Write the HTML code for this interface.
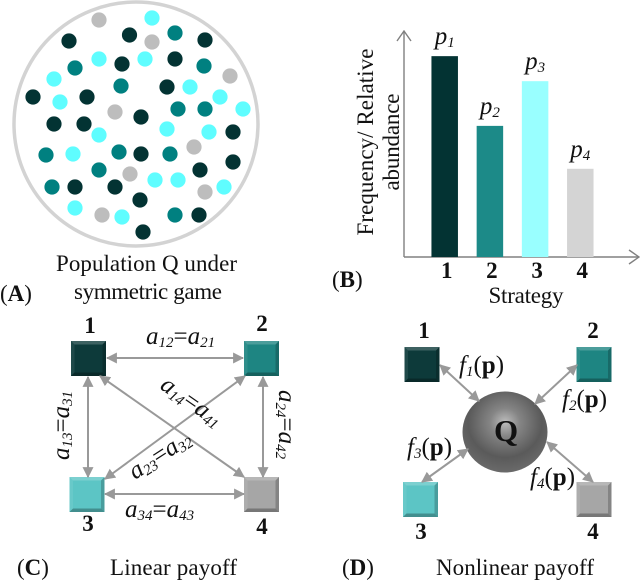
<!DOCTYPE html>
<html lang="en">
<head>
<meta charset="utf-8">
<title>Symmetric game diagram</title>
<style>
html,body{margin:0;padding:0;background:#fff;}
svg{display:block;}
text{font-family:"Liberation Serif",serif;fill:#111;}
.b{font-weight:bold;}
.i{font-style:italic;}
.t{font-size:23px;}
.n{font-size:23px;font-weight:bold;}
.l{font-size:25px;font-style:italic;}
.p{font-size:25px;font-style:italic;}
.s{font-size:15px;font-style:italic;}
.lnk{stroke:#999;stroke-width:2;fill:none;marker-start:url(#ah);marker-end:url(#ah);}
.dk{fill:#033333;}.te{fill:#008080;}.cy{fill:#5ffdff;}.gr{fill:#bdbdbd;}
</style>
</head>
<body>
<svg id="fig" xmlns="http://www.w3.org/2000/svg" width="640" height="581" viewBox="0 0 640 581">
<defs>
<marker id="ah" viewBox="0 0 10 10" refX="9" refY="5" markerWidth="5.5" markerHeight="5.5" orient="auto-start-reverse" markerUnits="strokeWidth"><path d="M0 0L10 5L0 10Z" fill="#999"/></marker>
<marker id="op" viewBox="0 0 12 16" refX="11" refY="8" markerWidth="12" markerHeight="16" orient="auto" markerUnits="userSpaceOnUse"><path d="M1 1L11 8L1 15" fill="none" stroke="#808080" stroke-width="1.4"/></marker>
<g id="bevel">
<path d="M0 0H35L31.500 3.500H3.500Z" fill="#fff" opacity=".2"/>
<path d="M0 0L3.500 3.500V31.500L0 35Z" fill="#fff" opacity=".08"/>
<path d="M35 0V35L31.500 31.500V3.500Z" fill="#000" opacity=".2"/>
<path d="M0 35H35L31.500 31.500H3.500Z" fill="#000" opacity=".28"/>
</g>
<radialGradient id="sph" cx=".5" cy=".38" r=".62">
<stop offset="0" stop-color="#bdbdbd"/><stop offset=".28" stop-color="#858585"/><stop offset=".7" stop-color="#5a5a5a"/><stop offset="1" stop-color="#6a6a6a"/>
</radialGradient>
</defs>

<!-- Panel A -->
<g>
<circle cx="136" cy="124" r="122" fill="#fff" stroke="#d3d3d3" stroke-width="3.5"/>
<g class="dk">
<circle cx="69" cy="41" r="7.6"/><circle cx="129.5" cy="35" r="7.6"/><circle cx="205" cy="40" r="7.6"/><circle cx="122" cy="64" r="7.6"/><circle cx="175" cy="59" r="7.6"/><circle cx="167" cy="87" r="7.6"/><circle cx="33" cy="97" r="7.6"/><circle cx="87" cy="97" r="7.6"/><circle cx="54" cy="124" r="7.6"/><circle cx="84" cy="124" r="7.6"/><circle cx="141" cy="117" r="7.6"/><circle cx="233" cy="132" r="7.6"/><circle cx="141" cy="154" r="7.6"/><circle cx="233" cy="162" r="7.6"/><circle cx="200" cy="170" r="7.6"/><circle cx="75" cy="187" r="7.6"/><circle cx="115" cy="187" r="7.6"/><circle cx="140" cy="200" r="7.6"/><circle cx="199" cy="215" r="7.6"/><circle cx="143" cy="232" r="7.6"/>
</g>
<g class="te">
<circle cx="175" cy="33" r="7.6"/><circle cx="75" cy="68" r="7.6"/><circle cx="204" cy="66" r="7.6"/><circle cx="121" cy="86" r="7.6"/><circle cx="178" cy="109" r="7.6"/><circle cx="205" cy="109" r="7.6"/><circle cx="46" cy="155" r="7.6"/><circle cx="119" cy="152" r="7.6"/><circle cx="170" cy="154" r="7.6"/><circle cx="99" cy="170" r="7.6"/><circle cx="52" cy="187" r="7.6"/><circle cx="175" cy="215" r="7.6"/>
</g>
<g class="cy">
<circle cx="152" cy="18" r="7.6"/><circle cx="99" cy="59" r="7.6"/><circle cx="145" cy="59" r="7.6"/><circle cx="54" cy="79" r="7.6"/><circle cx="190" cy="87" r="7.6"/><circle cx="60" cy="102" r="7.6"/><circle cx="220" cy="97" r="7.6"/><circle cx="243" cy="109" r="7.6"/><circle cx="99" cy="135" r="7.6"/><circle cx="167" cy="129" r="7.6"/><circle cx="209" cy="132" r="7.6"/><circle cx="73" cy="154" r="7.6"/><circle cx="155" cy="180" r="7.6"/><circle cx="178" cy="180" r="7.6"/><circle cx="224" cy="187" r="7.6"/><circle cx="75" cy="208" r="7.6"/><circle cx="122" cy="217" r="7.6"/>
</g>
<g class="gr">
<circle cx="99" cy="20" r="7.6"/><circle cx="152" cy="42" r="7.6"/><circle cx="230" cy="76" r="7.6"/><circle cx="115" cy="112" r="7.6"/><circle cx="194" cy="147" r="7.6"/><circle cx="130" cy="174" r="7.6"/><circle cx="205" cy="192" r="7.6"/><circle cx="102" cy="215" r="7.6"/>
</g>
<text class="t" x="56" y="271" textLength="181" lengthAdjust="spacing">Population Q under</text>
<text class="t" x="74" y="299" textLength="148" lengthAdjust="spacing">symmetric game</text>
<text class="t" x="0" y="301"><tspan>(</tspan><tspan class="b">A</tspan><tspan>)</tspan></text>
</g>

<!-- Panel B -->
<g id="barPanel">
<path d="M404 257V31" stroke="#808080" stroke-width="1.4" fill="none" marker-end="url(#op)"/>
<path d="M404 257H639" stroke="#808080" stroke-width="1.4" fill="none" marker-end="url(#op)"/>
<text class="t" transform="translate(373 142) rotate(-90)" text-anchor="middle" textLength="187">Frequency/ Relative</text>
<text class="t" transform="translate(399 142) rotate(-90)" text-anchor="middle" textLength="97">abundance</text>
<text class="t" x="526" y="303" text-anchor="middle" textLength="75">Strategy</text>
<text class="t" x="332" y="287"><tspan>(</tspan><tspan class="b">B</tspan><tspan>)</tspan></text>
</g>

<!-- Panel C -->
<g>
<g transform="translate(71 341)"><rect width="35" height="35" fill="#0d3a3a"/><use href="#bevel"/></g>
<g transform="translate(244 341)"><rect width="35" height="35" fill="#1e8582"/><use href="#bevel"/></g>
<g transform="translate(69.500 477)"><rect width="35" height="35" fill="#5cc5c5"/><use href="#bevel"/></g>
<g transform="translate(244 477)"><rect width="35" height="35" fill="#a6a6a6"/><use href="#bevel"/></g>
<path class="lnk" d="M107 358H243"/>
<path class="lnk" d="M88 377V477"/>
<path class="lnk" d="M263 377V477"/>
<path class="lnk" d="M105 494H244"/>
<path class="lnk" d="M100 376L244 477"/>
<path class="lnk" d="M245 376L105 479"/>
<text class="n" x="90" y="333" text-anchor="middle">1</text>
<text class="n" x="262" y="331" text-anchor="middle">2</text>
<text class="n" x="88" y="531" text-anchor="middle">3</text>
<text class="n" x="262" y="534" text-anchor="middle">4</text>
<text class="l" x="146" y="344">a<tspan class="s" dy="3">12</tspan><tspan dy="-3" font-style="normal">=</tspan>a<tspan class="s" dy="3">21</tspan></text>
<text class="l" x="125" y="517">a<tspan class="s" dy="3">34</tspan><tspan dy="-3" font-style="normal">=</tspan>a<tspan class="s" dy="3">43</tspan></text>
<text class="l" transform="translate(69 460) rotate(-90)">a<tspan class="s" dy="3">13</tspan><tspan dy="-3" font-style="normal">=</tspan>a<tspan class="s" dy="3">31</tspan></text>
<text class="l" transform="translate(279 390) rotate(90)">a<tspan class="s" dy="3">24</tspan><tspan dy="-3" font-style="normal">=</tspan>a<tspan class="s" dy="3">42</tspan></text>
<text class="l" transform="translate(159 388) rotate(35)">a<tspan class="s" dy="3">14</tspan><tspan dy="-3" font-style="normal">=</tspan>a<tspan class="s" dy="3">41</tspan></text>
<text class="l" transform="translate(135 480) rotate(-33)">a<tspan class="s" dy="3">23</tspan><tspan dy="-3" font-style="normal">=</tspan>a<tspan class="s" dy="3">32</tspan></text>
<text class="t" x="17" y="575"><tspan>(</tspan><tspan class="b">C</tspan><tspan>)</tspan></text>
<text class="t" x="110" y="575" textLength="127">Linear payoff</text>
</g>

<!-- Panel D -->
<g>
<ellipse cx="505" cy="432" rx="42.500" ry="40.500" fill="url(#sph)"/>
<text x="506" y="441" font-size="31" font-weight="bold" text-anchor="middle">Q</text>
<g transform="translate(404.500 347)"><rect width="35" height="35" fill="#0d3a3a"/><use href="#bevel"/></g>
<g transform="translate(576.500 347)"><rect width="35" height="35" fill="#1e8582"/><use href="#bevel"/></g>
<g transform="translate(403 482)"><rect width="35" height="35" fill="#5cc5c5"/><use href="#bevel"/></g>
<g transform="translate(576.500 482)"><rect width="35" height="35" fill="#a6a6a6"/><use href="#bevel"/></g>
<path class="lnk" d="M440 365L479 401"/>
<path class="lnk" d="M577 365L535 404"/>
<path class="lnk" d="M468 449L422 482"/>
<path class="lnk" d="M547 442L593 482"/>
<text class="n" x="424" y="338" text-anchor="middle">1</text>
<text class="n" x="593" y="338" text-anchor="middle">2</text>
<text class="n" x="421" y="539" text-anchor="middle">3</text>
<text class="n" x="593" y="539" text-anchor="middle">4</text>
<text class="l" x="459" y="373">f<tspan class="s" dy="3">1</tspan><tspan dy="-3" font-style="normal">(</tspan><tspan font-style="normal" font-weight="bold">p</tspan><tspan font-style="normal">)</tspan></text>
<text class="l" x="562" y="407">f<tspan class="s" dy="3">2</tspan><tspan dy="-3" font-style="normal">(</tspan><tspan font-style="normal" font-weight="bold">p</tspan><tspan font-style="normal">)</tspan></text>
<text class="l" x="407" y="455">f<tspan class="s" dy="3">3</tspan><tspan dy="-3" font-style="normal">(</tspan><tspan font-style="normal" font-weight="bold">p</tspan><tspan font-style="normal">)</tspan></text>
<text class="l" x="530" y="485">f<tspan class="s" dy="3">4</tspan><tspan dy="-3" font-style="normal">(</tspan><tspan font-style="normal" font-weight="bold">p</tspan><tspan font-style="normal">)</tspan></text>
<text class="t" x="342" y="575"><tspan>(</tspan><tspan class="b">D</tspan><tspan>)</tspan></text>
<text class="t" x="436" y="575" textLength="158">Nonlinear payoff</text>
</g>
</svg>
<script>
const categories = ['1', '2', '3', '4'];
const frequencies = [0.337, 0.220, 0.295, 0.148];
const barColors = ['#033333', '#1c8a88', '#99ffff', '#d4d4d4'];

const NS = 'http://www.w3.org/2000/svg';
const panel = document.getElementById('barPanel');
const xScale = i => 444.7 + i * 45.2;
const yScale = v => 257 - v * 596;
const barWidth = 26.5;

categories.forEach((cat, i) => {
  const bar = document.createElementNS(NS, 'rect');
  
  
  bar.setAttribute('x', xScale(i) - barWidth / 2);
  bar.setAttribute('y', yScale(frequencies[i]));
  bar.setAttribute('width', barWidth);
  bar.setAttribute('height', 257 - yScale(frequencies[i]));
  bar.setAttribute('fill', barColors[i]);
  panel.appendChild(bar);

  const tick = document.createElementNS(NS, 'text');
  
  
  tick.setAttribute('class', 'n');
  tick.setAttribute('x', xScale(i) + 2);
  tick.setAttribute('y', 278);
  tick.setAttribute('text-anchor', 'middle');
  tick.textContent = cat;
  panel.appendChild(tick);

  const label = document.createElementNS(NS, 'text');
  
  
  label.setAttribute('class', 'p');
  label.setAttribute('x', xScale(i) - 10);
  label.setAttribute('y', yScale(frequencies[i]) - 12);
  label.textContent = 'p';
  const sub = document.createElementNS(NS, 'tspan');
  sub.setAttribute('class', 's');
  sub.setAttribute('dy', '3');
  sub.textContent = cat;
  label.appendChild(sub);
  panel.appendChild(label);
});
</script>
</body>
</html>
